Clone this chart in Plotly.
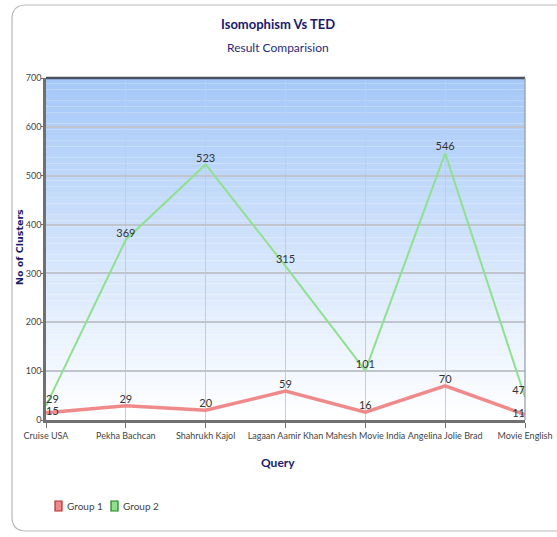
import plotly.graph_objects as go

categories = ["Cruise USA", "Pekha Bachcan", "Shahrukh Kajol", "Lagaan Aamir Khan",
              "Mahesh Movie India", "Angelina Jolie Brad", "Movie English"]
group1 = [15, 29, 20, 59, 16, 70, 11]
group2 = [29, 369, 523, 315, 101, 546, 47]
series_names = ["Group 1", "Group 2"]
y_ticks = [0, 100, 200, 300, 400, 500, 600, 700]

W, H = 557, 537
L, R, T, B = 46, 32, 78, 117
pw, ph = W - L - R, H - T - B

def px(x):
    return (x - L) / pw

def py(y):
    return (H - B - y) / ph

FONT = "Lato, Liberation Sans, sans-serif"
n = len(categories)
pos1 = ["middle right"] + ["top center"] * (n - 2) + ["middle left"]
pos2 = ["top right"] + ["top center"] * (n - 2) + ["top left"]
line_colors = ["#f08a8a", "#8fe08f"]
edge_colors = ["#b03030", "#208020"]

fig = go.Figure()
fig.add_trace(go.Scatter(
    x=categories, y=group1, mode="lines+text", text=[str(v) for v in group1],
    textposition=pos1, textfont=dict(family=FONT, size=11, color="#333333"),
    line=dict(color=line_colors[0], width=3.5), name=series_names[0],
    showlegend=False, cliponaxis=False))
fig.add_trace(go.Scatter(
    x=categories, y=group2, mode="lines+text", text=[str(v) for v in group2],
    textposition=pos2, textfont=dict(family=FONT, size=11, color="#333333"),
    line=dict(color=line_colors[1], width=2), name=series_names[1],
    showlegend=False, cliponaxis=False))

shapes = []
# gradient background bands
nb = 60
top = (165, 200, 248)
for i in range(nb):
    f = i / (nb - 1)
    c = tuple(int(round(top[k] + (255 - top[k]) * f)) for k in range(3))
    y1 = 1 - i / nb
    y0 = 1 - (i + 1) / nb
    shapes.append(dict(type="rect", xref="paper", yref="paper", x0=0, x1=1,
                       y0=y0, y1=y1, fillcolor="rgb(%d,%d,%d)" % c,
                       line=dict(width=0), layer="below"))
# rounded outer frame
x0, x1 = px(12), px(562)
y0, y1 = py(531), py(5)
rx, ry = 14 / pw, 14 / ph
path = (f"M {x0+rx},{y1} L {x1},{y1} M {x0+rx},{y1} Q {x0},{y1} {x0},{y1-ry} "
        f"L {x0},{y0+ry} Q {x0},{y0} {x0+rx},{y0} L {x1},{y0}")
shapes.append(dict(type="path", xref="paper", yref="paper", path=path,
                   line=dict(color="#b8b8b8", width=1.2)))
# top border line and right border
shapes.append(dict(type="line", xref="paper", yref="paper", x0=0, x1=1, y0=1, y1=1,
                   line=dict(color="#4a5060", width=2.5)))
shapes.append(dict(type="line", xref="paper", yref="paper", x0=1, x1=1, y0=0, y1=1,
                   line=dict(color="#9098a8", width=1.2)))

annotations = [
    dict(text="<b>Isomophism Vs TED</b>", xref="paper", yref="paper", x=px(278), y=py(24),
         xanchor="center", yanchor="middle",
         showarrow=False, font=dict(family=FONT, size=13, color="#1a1a6e")),
    dict(text="Result Comparision", xref="paper", yref="paper", x=px(278), y=py(48),
         xanchor="center", yanchor="middle",
         showarrow=False, font=dict(family=FONT, size=12, color="#2a2a7a")),
    dict(text="<b>No of Clusters</b>", xref="paper", yref="paper", x=px(20), y=py(247),
         xanchor="center", yanchor="middle",
         showarrow=False, textangle=-90,
         font=dict(family="DejaVu Sans, sans-serif", size=9.5, color="#1a1a6e")),
    dict(text="<b>Query</b>", xref="paper", yref="paper", x=px(278), y=py(462),
         xanchor="center", yanchor="middle",
         showarrow=False, font=dict(family=FONT, size=12, color="#1a1a6e")),
]

# manual legend
leg_x = [55, 111]
for i, name in enumerate(series_names):
    sx = leg_x[i]
    shapes.append(dict(type="rect", xref="paper", yref="paper",
                       x0=px(sx), x1=px(sx + 7), y0=py(511), y1=py(501),
                       fillcolor=line_colors[i], line=dict(color=edge_colors[i], width=1.2)))
    annotations.append(dict(text=name, xref="paper", yref="paper", x=px(sx + 10), y=py(506),
                            xanchor="left", yanchor="middle", showarrow=False,
                            font=dict(family=FONT, size=10, color="#444444")))

fig.update_layout(
    width=W, height=H, margin=dict(l=L, r=R, t=T, b=B, autoexpand=False),
    paper_bgcolor="white", plot_bgcolor="rgba(0,0,0,0)",
    shapes=shapes, annotations=annotations,
    showlegend=False,
    font=dict(family=FONT, size=11, color="#444444"),
)
fig.update_xaxes(type="category", range=[0, n - 1], showgrid=True, gridcolor="#c8ccd4",
                 gridwidth=1, showline=True, linecolor="#707070", linewidth=3,
                 ticks="outside", ticklen=5, tickcolor="#707070", tickangle=0,
                 automargin=False,
                 tickfont=dict(family=FONT, size=9, color="#444444"), zeroline=False)
fig.update_yaxes(range=[0, 700], tickvals=y_ticks, showgrid=True, gridcolor="#c0c4cc",
                 gridwidth=1.5, showline=True, linecolor="#707070", linewidth=2.5,
                 ticks="outside", ticklen=2, tickcolor="#707070", automargin=False,
                 ticklabelstandoff=-2,
                 tickfont=dict(family=FONT, size=9, color="#444444"), zeroline=False)

fig.write_html("out.html", config={"displayModeBar": False},
               post_script="document.body.style.margin='0px';")
